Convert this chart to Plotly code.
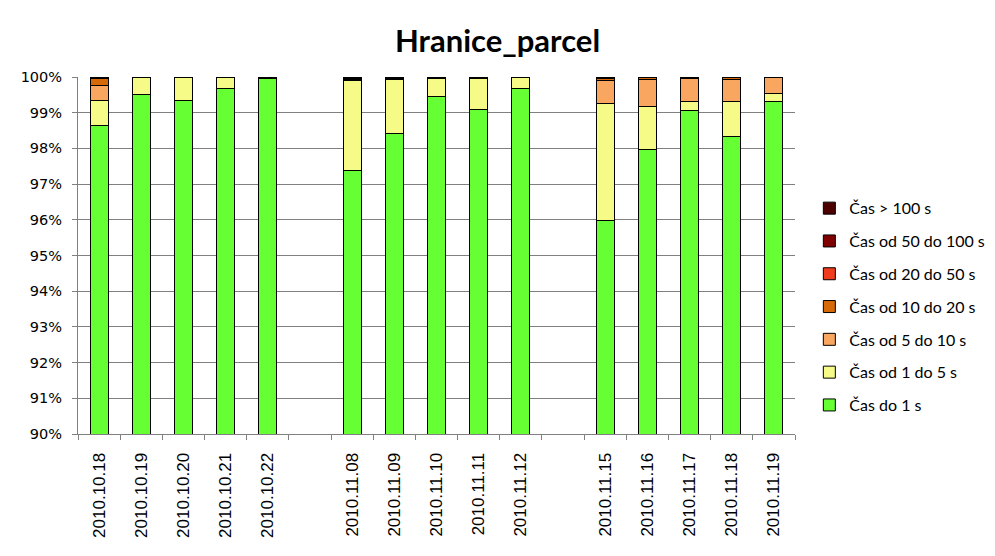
import plotly.graph_objects as go

# categories (blank slots separate the weeks)
dates = ["2010.10.18", "2010.10.19", "2010.10.20", "2010.10.21", "2010.10.22", " ",
         "2010.11.08", "2010.11.09", "2010.11.10", "2010.11.11", "2010.11.12", "  ",
         "2010.11.15", "2010.11.16", "2010.11.17", "2010.11.18", "2010.11.19"]

# shares in percent
do_1s = [98.64, 99.50, 99.33, 99.67, 99.96, None, 97.37, 98.43, 99.44, 99.08, 99.69, None, 95.97, 97.98, 99.06, 98.33, 99.32]
od_1_do_5 = [0.69, 0.48, 0.65, 0.31, 0.03, None, 2.52, 1.50, 0.53, 0.89, 0.31, None, 3.30, 1.20, 0.26, 0.97, 0.21]
od_5_do_10 = [0.42, 0.01, 0.01, 0.01, 0.00, None, 0.03, 0.01, 0.01, 0.01, 0.00, None, 0.64, 0.74, 0.64, 0.64, 0.47]
od_10_do_20 = [0.22, 0.00, 0.00, 0.00, 0.00, None, 0.02, 0.01, 0.01, 0.01, 0.00, None, 0.04, 0.06, 0.01, 0.05, 0.00]
od_20_do_50 = [0.01, 0.00, 0.00, 0.00, 0.00, None, 0.01, 0.01, 0.01, 0.01, 0.00, None, 0.01, 0.01, 0.01, 0.01, 0.00]
od_50_do_100 = [0.01, 0.00, 0.01, 0.01, 0.00, None, 0.02, 0.02, 0.00, 0.00, 0.00, None, 0.02, 0.01, 0.01, 0.00, 0.00]
nad_100 = [0.01, 0.01, 0.01, 0.01, 0.01, None, 0.03, 0.02, 0.00, 0.01, 0.00, None, 0.02, 0.00, 0.01, 0.00, 0.00]

series = [
    ("Čas do 1 s", do_1s, "#66ff33"),
    ("Čas od 1 do 5 s", od_1_do_5, "#f5fb86"),
    ("Čas od 5 do 10 s", od_5_do_10, "#f9a660"),
    ("Čas od 10 do 20 s", od_10_do_20, "#d66a08"),
    ("Čas od 20 do 50 s", od_20_do_50, "#f03c1c"),
    ("Čas od 50 do 100 s", od_50_do_100, "#800000"),
    ("Čas > 100 s", nad_100, "#4d0000"),
]

fig = go.Figure()
for i, (name, vals, color) in enumerate(series):
    fig.add_trace(go.Bar(
        x=dates,
        y=[v / 100 if v is not None else None for v in vals],
        name=name,
        legendgroup=name,
        legendrank=len(series) - i,  # top of the stack first in legend
        marker=dict(color=color, line=dict(color="black", width=1)),
    ))

# page body adds 8px, so margins are shifted by that much
fig.update_layout(
    width=995, height=556,
    barmode="stack",
    bargap=0.57,
    plot_bgcolor="white",
    paper_bgcolor="white",
    margin=dict(l=70, r=208, t=69, b=130),
    title=dict(text="<b>Hranice_parcel</b>", x=0.492, xanchor="center",
               yref="container", y=0.94, yanchor="middle",
               font=dict(family="Lato", size=31, color="black")),
    legend=dict(x=1.02, y=0.68, xanchor="left", yanchor="top",
                traceorder="grouped", tracegroupgap=9,
                font=dict(family="Lato", size=16, color="black")),
    xaxis=dict(
        type="category",
        categoryorder="array", categoryarray=dates,
        tickangle=-90,
        tickson="boundaries",
        ticks="outside", ticklen=5, tickcolor="#808080",
        showline=True, linecolor="#808080",
        showgrid=False,
        ticklabelstandoff=11,
        tickfont=dict(family="Liberation Sans", size=17, color="black"),
    ),
    yaxis=dict(
        range=[0.9, 1.0],
        dtick=0.01,
        tickformat=".0%",
        showgrid=True, gridcolor="#808080", gridwidth=1,
        showline=True, linecolor="#808080",
        ticks="outside", ticklen=5, tickcolor="#808080",
        ticklabelstandoff=7,
        tickfont=dict(family="DejaVu Sans", size=14.5, color="black"),
        zeroline=False,
    ),
)

fig.write_html("out.html")
